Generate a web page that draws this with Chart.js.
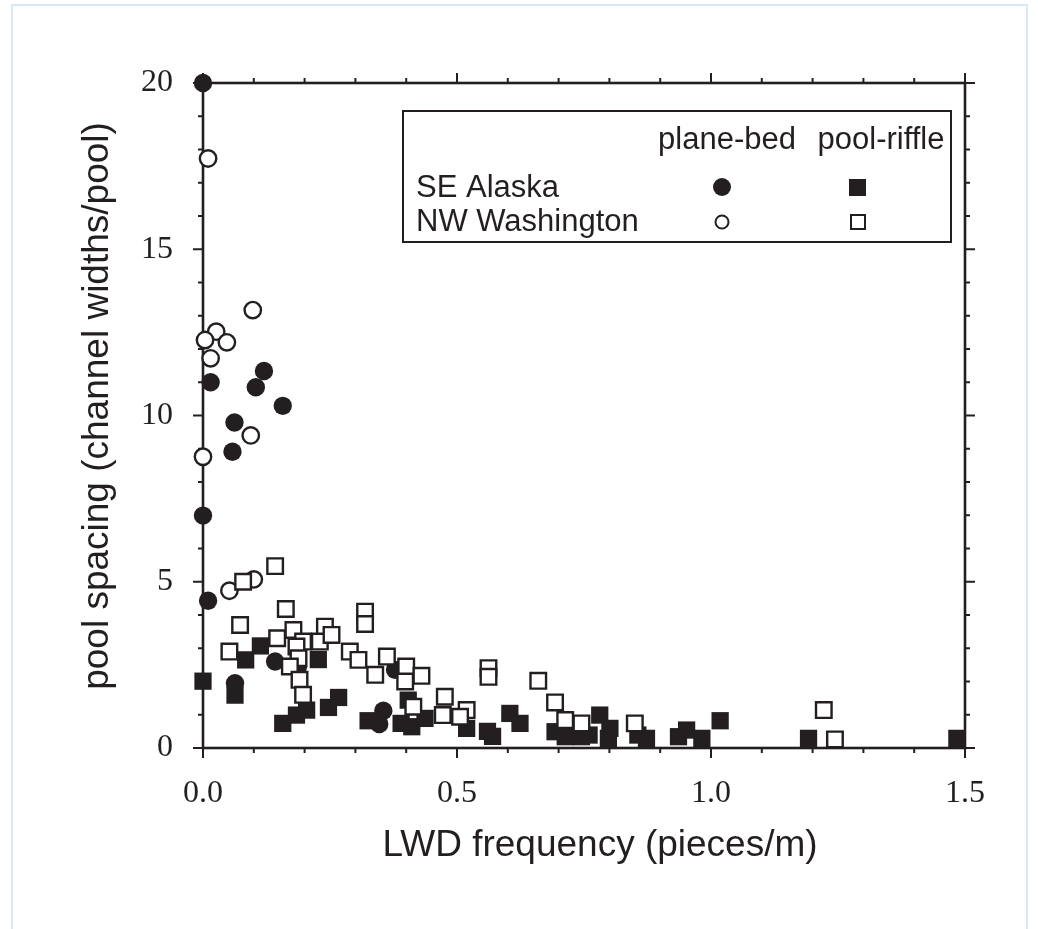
<!DOCTYPE html>
<html>
<head>
<meta charset="utf-8">
<script src="https://cdn.jsdelivr.net/npm/chart.js@4.4.1/dist/chart.umd.min.js"></script>
<style>
  html, body { margin: 0; padding: 0; background: #ffffff; }
  #wrap { position: relative; width: 1038px; height: 929px; overflow: hidden; }
  #frame { position: absolute; left: 11px; top: 4px; width: 1017px; height: 940px; border: 2px solid #d4eafa; box-sizing: border-box; }
  canvas { position: absolute; left: 0; top: 0; }
</style>
</head>
<body>
<div id="wrap">
  <div id="frame"></div>
  <canvas id="c" width="1038" height="929"></canvas>
</div>
<script>
// ---- data ----
const xTickLabels = ['0.0', '0.5', '1.0', '1.5'];
const yTickLabels = ['0', '5', '10', '15', '20'];

const alaskaPlaneX = [0, 0.015, 0.12, 0.104, 0.157, 0.062, 0.058, 0, 0.01, 0.063, 0.142, 0.187, 0.378, 0.355, 0.347];
const alaskaPlaneY = [20, 11.0, 11.34, 10.85, 10.29, 9.79, 8.91, 6.99, 4.43, 1.95, 2.6, 2.45, 2.35, 1.12, 0.72];

const washPlaneX = [0.01, 0.098, 0.026, 0.004, 0.047, 0.015, 0.094, 0, 0.052, 0.1];
const washPlaneY = [17.73, 13.17, 12.52, 12.27, 12.2, 11.72, 9.4, 8.76, 4.73, 5.07];

const alaskaRiffleX = [0, 0.063, 0.084, 0.113, 0.227, 0.157, 0.184, 0.204, 0.247, 0.267, 0.325, 0.39, 0.404, 0.411, 0.437, 0.519, 0.56, 0.57, 0.604, 0.624, 0.693, 0.713, 0.745, 0.76, 0.781, 0.801, 0.798, 0.856, 0.873, 0.936, 0.952, 0.982, 1.018, 1.192, 1.484];
const alaskaRiffleY = [2.01, 1.59, 2.65, 3.07, 2.66, 0.74, 0.99, 1.14, 1.22, 1.52, 0.82, 0.74, 1.44, 0.64, 0.89, 0.59, 0.5, 0.35, 1.04, 0.74, 0.49, 0.34, 0.34, 0.39, 0.99, 0.59, 0.29, 0.39, 0.29, 0.34, 0.54, 0.29, 0.82, 0.29, 0.29];

const washRiffleX = [0.079, 0.142, 0.073, 0.163, 0.052, 0.146, 0.178, 0.24, 0.197, 0.23, 0.253, 0.184, 0.188, 0.171, 0.19, 0.197, 0.289, 0.306, 0.319, 0.319, 0.362, 0.339, 0.4, 0.398, 0.43, 0.414, 0.476, 0.472, 0.519, 0.506, 0.562, 0.562, 0.66, 0.693, 0.713, 0.745, 0.85, 1.222, 1.244];
const washRiffleY = [5.0, 5.47, 3.7, 4.18, 2.9, 3.3, 3.55, 3.65, 3.2, 3.2, 3.4, 3.05, 2.7, 2.45, 2.05, 1.6, 2.9, 2.65, 4.1, 3.73, 2.75, 2.2, 2.45, 2.0, 2.17, 1.24, 1.54, 0.99, 1.14, 0.94, 2.4, 2.14, 2.02, 1.37, 0.84, 0.74, 0.74, 1.14, 0.26];

const legendColumns = ['plane-bed', 'pool-riffle'];
const legendRows = ['SE Alaska', 'NW Washington'];
const xTitle = 'LWD frequency (pieces/m)';
const yTitle = 'pool spacing (channel widths/pool)';

// ---- helpers ----
const INK = '#231f20';
const pts = (xs, ys) => xs.map((v, i) => ({ x: v, y: ys[i] }));

const framePlugin = {
  id: 'framePlugin',
  beforeDatasetsDraw(chart) {
    const { ctx, chartArea: a, scales } = chart;
    const xs = scales.x, ys = scales.y;
    ctx.save();
    ctx.strokeStyle = INK;
    ctx.lineCap = 'butt';
    ctx.lineWidth = 2;
    const seg = (x1, y1, x2, y2) => { ctx.beginPath(); ctx.moveTo(x1, y1); ctx.lineTo(x2, y2); ctx.stroke(); };
    for (let i = 0; i <= 15; i++) {
      const px = xs.getPixelForValue(i / 10);
      const len = i % 5 === 0 ? 10 : 5;
      seg(px, a.bottom, px, a.bottom + len);
      seg(px, a.top, px, a.top - len);
    }
    for (let i = 0; i <= 20; i++) {
      const py = ys.getPixelForValue(i);
      const len = i % 5 === 0 ? 10 : 5;
      seg(a.left, py, a.left - len, py);
      seg(a.right, py, a.right + len, py);
    }
    ctx.lineWidth = 2.6;
    ctx.strokeRect(a.left, a.top, a.right - a.left, a.bottom - a.top);
    ctx.restore();
  },
  afterDraw(chart) {
    const { ctx } = chart;
    ctx.save();
    ctx.fillStyle = INK;
    ctx.strokeStyle = INK;
    // axis titles
    ctx.font = '37px "Liberation Sans", Arial, sans-serif';
    ctx.textAlign = 'center';
    ctx.textBaseline = 'middle';
    ctx.fillText(xTitle, 600, 846);
    ctx.save();
    ctx.translate(98, 406);
    ctx.rotate(-Math.PI / 2);
    ctx.fillText(yTitle, 0, 0);
    ctx.restore();
    // legend box
    ctx.fillStyle = '#ffffff';
    ctx.fillRect(403, 111, 548, 131);
    ctx.lineWidth = 2;
    ctx.strokeRect(403, 111, 548, 131);
    ctx.fillStyle = INK;
    ctx.font = '31px "Liberation Sans", Arial, sans-serif';
    ctx.textAlign = 'center';
    ctx.fillText(legendColumns[0], 727, 140);
    ctx.fillText(legendColumns[1], 881, 140);
    ctx.textAlign = 'left';
    ctx.fillText(legendRows[0], 416, 188);
    ctx.fillText(legendRows[1], 416, 222);
    // legend markers
    ctx.beginPath(); ctx.arc(722, 187, 9, 0, Math.PI * 2); ctx.fill();
    ctx.fillRect(849, 179, 17, 17);
    ctx.lineWidth = 2;
    ctx.beginPath(); ctx.arc(722, 222, 6.5, 0, Math.PI * 2); ctx.stroke();
    ctx.strokeRect(851, 215, 14, 14);
    ctx.restore();
  }
};

new Chart(document.getElementById('c'), {
  type: 'scatter',
  data: {
    datasets: [
      { label: 'SE Alaska pool-riffle', data: pts(alaskaRiffleX, alaskaRiffleY), pointStyle: 'rect', pointRadius: 12.2, backgroundColor: INK, borderColor: INK, borderWidth: 0, order: 4, clip: false },
      { label: 'SE Alaska plane-bed', data: pts(alaskaPlaneX, alaskaPlaneY), pointStyle: 'circle', pointRadius: 9.2, backgroundColor: INK, borderColor: INK, borderWidth: 0, order: 3, clip: false },
      { label: 'NW Washington plane-bed', data: pts(washPlaneX, washPlaneY), pointStyle: 'circle', pointRadius: 8.2, backgroundColor: '#ffffff', borderColor: INK, borderWidth: 2.4, order: 2, clip: false },
      { label: 'NW Washington pool-riffle', data: pts(washRiffleX, washRiffleY), pointStyle: 'rect', pointRadius: 11, backgroundColor: '#ffffff', borderColor: INK, borderWidth: 2.4, order: 1, clip: false }
    ]
  },
  options: {
    responsive: false,
    devicePixelRatio: 1,
    animation: false,
    events: [],
    layout: { padding: { top: 83, right: 73, left: 0, bottom: 0 } },
    plugins: { legend: { display: false }, tooltip: { enabled: false } },
    scales: {
      x: {
        type: 'linear', min: 0, max: 1.5,
        grid: { display: false }, border: { display: false },
        afterFit: s => { s.height = 181; },
        afterBuildTicks: s => { s.ticks = xTickLabels.map(t => ({ value: parseFloat(t) })); },
        ticks: {
          padding: 18, color: INK, maxRotation: 0,
          font: { family: '"Liberation Serif", "Times New Roman", serif', size: 32 },
          callback: (v, i) => xTickLabels[i]
        }
      },
      y: {
        type: 'linear', min: 0, max: 20,
        grid: { display: false }, border: { display: false },
        afterFit: s => { s.width = 203; },
        afterBuildTicks: s => { s.ticks = yTickLabels.map(t => ({ value: parseFloat(t) })); },
        ticks: {
          padding: 22, color: INK,
          font: { family: '"Liberation Serif", "Times New Roman", serif', size: 32 },
          callback: (v, i) => yTickLabels[i]
        }
      }
    }
  },
  plugins: [framePlugin]
});
</script>
</body>
</html>
